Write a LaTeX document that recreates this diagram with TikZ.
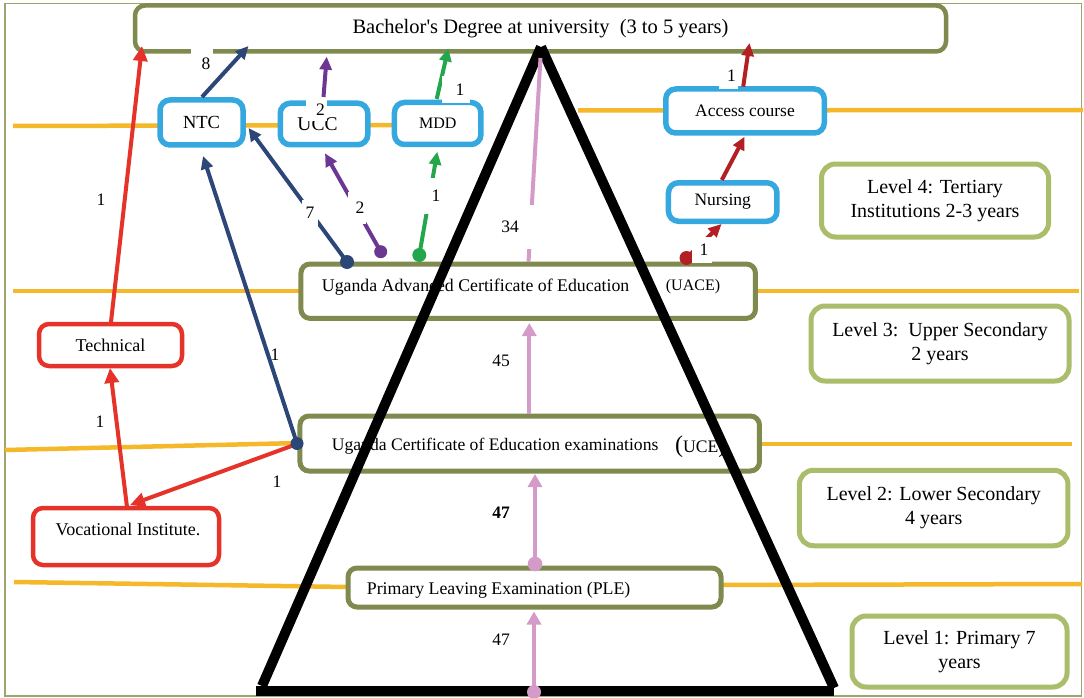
\documentclass[tikz,border=0pt]{standalone}
\usepackage{fontspec}
\setmainfont{Liberation Serif}
\usetikzlibrary{arrows.meta}
\definecolor{olv}{HTML}{7E8A4E}
\definecolor{sky}{HTML}{35A8E0}
\definecolor{lgr}{HTML}{A9BD6A}
\definecolor{rd}{HTML}{E6332A}
\definecolor{drd}{HTML}{B32024}
\definecolor{nvy}{HTML}{2C4677}
\definecolor{prp}{HTML}{6B3793}
\definecolor{grn}{HTML}{23A64C}
\definecolor{pnk}{HTML}{D49BC9}
\definecolor{ylw}{HTML}{F4B82A}
\definecolor{frm}{HTML}{9DA46C}
\newcommand{\myfs}[2]{\fontsize{#1pt}{#2pt}\selectfont}
\begin{document}
\begin{tikzpicture}[x=1pt,y=-1pt,
  box/.style={fill=white, rounded corners=9pt, inner sep=0pt, text=black},
  obox/.style={box, draw=olv, line width=5pt},
  bbox/.style={box, draw=sky, line width=5.5pt, rounded corners=10pt},
  lvbox/.style={box, draw=lgr, line width=5pt, rounded corners=14pt, align=center, font=\myfs{20}{24}},
  rbox/.style={box, draw=rd, line width=4.5pt, rounded corners=10pt},
  tx/.style={inner sep=0pt, anchor=west},
  lbl/.style={fill=white, inner sep=0pt, font=\myfs{17.5}{17.5}},
  plbl/.style={inner sep=0pt, font=\myfs{17.5}{17.5}},
  ylline/.style={draw=ylw, line width=4.5pt},
  con/.style={line width=4pt, -{Triangle[length=13pt,width=12pt]}},
  nv/.style={con, color=nvy},
  pr/.style={con, color=prp},
  gr/.style={con, color=grn},
  dr/.style={con, color=drd},
  br/.style={con, color=rd, -{Triangle[length=15pt,width=14pt]}},
  pk/.style={con, color=pnk, -{Triangle[length=13pt,width=14pt]}},
  tri/.style={line width=10pt, black}
]
\useasboundingbox (0,0) rectangle (1084,698);
\draw[frm, line width=1.3pt] (5,3.5) rectangle (1081.5,696);

% yellow level lines
\draw[ylline] (13,126) -- (395,125);
\draw[ylline] (578,110.5) -- (1083,110);
\draw[ylline] (13,291) -- (301,291);
\draw[ylline] (755,291) -- (1079,291);
\draw[ylline] (5,450) -- (300,443);
\draw[ylline] (759,444) -- (1072,444);
\draw[ylline] (14,582) -- (348,587);
\draw[ylline] (721,585) -- (1082,584);

% boxes
\node[obox, line width=4.5pt, rounded corners=10pt, minimum width=811pt, minimum height=46pt, font=\myfs{20.5}{22}] (bach) at (540.5,28.5) {Bachelor\textquotesingle s Degree at university\ \ (3 to 5 years)};
\node[bbox, minimum width=83pt, minimum height=45pt, font=\myfs{18.5}{18.5}] (ntc) at (201.5,122.5) {\raisebox{-1.5pt}{NTC}};
\node[bbox, minimum width=87.5pt, minimum height=41.5pt, font=\myfs{19.5}{19.5}] (ucc) at (324,124) {\raisebox{-4pt}{UCC}\hspace*{13pt}};
\node[bbox, minimum width=86.5pt, minimum height=42pt, font=\myfs{16}{16}] (mdd) at (437.7,123.5) {\raisebox{-1.5pt}{MDD}};
\node[bbox, minimum width=158.5pt, minimum height=44pt, font=\myfs{17.5}{17.5}] (acc) at (745,111) {Access course};
\node[bbox, minimum width=108.5pt, minimum height=38.5pt, font=\myfs{17.5}{17.5}] (nur) at (722.7,202) {\raisebox{-3pt}{Nursing}};

\node[lvbox, minimum width=227pt, minimum height=73pt] (lv4) at (935,200.5) {Level 4: Tertiary\\Institutions 2-3 years};
\node[lvbox, minimum width=258pt, minimum height=75pt] (lv3) at (940,343.5) {Level 3:\ \ Upper Secondary\\2 years};
\node[lvbox, minimum width=268.5pt, minimum height=75.5pt] (lv2) at (933.7,508) {Level 2: Lower Secondary\\4 years};
\node[lvbox, minimum width=215pt, minimum height=71pt] (lv1) at (959.5,651.5) {Level 1: Primary 7\\years};

\node[rbox, minimum width=143pt, minimum height=42pt, font=\myfs{18}{18}] (tech) at (110.5,345) {Technical};
\node[rbox, minimum width=186pt, minimum height=57pt] (voc) at (126,536.5) {};
\node[tx, anchor=center, font=\myfs{18}{18}] (voct) at (128,529.3) {Vocational Institute.};

\node[obox, minimum width=454.5pt, minimum height=54.3pt] (uace) at (528.2,291.2) {};
\node[tx, font=\myfs{17.8}{17.8}] (uacet) at (321.7,287) {Uganda Advanced Certificate of Education};
\node[tx, font=\myfs{16}{16}] (uacet2) at (665.7,287) {(UACE)};

\node[obox, minimum width=459.5pt, minimum height=55pt] (uce) at (529.7,443.5) {};
\node[tx, font=\myfs{17.6}{17.6}] (ucet) at (331.7,446.5) {Uganda Certificate of Education examinations};
\node[tx, font=\myfs{17.6}{17.6}] (ucet2) at (675,446.5) {{\myfs{24}{24}(}UCE{\myfs{24}{24})}};

\node[obox, minimum width=373pt, minimum height=39pt] (ple) at (534.5,587.5) {};
\node[tx, font=\myfs{17.8}{17.8}] (plet) at (366.7,590) {Primary Leaving Examination (PLE)};

% triangle
\coordinate (apex) at (541,47);
\coordinate (bl) at (262,686);
\coordinate (br) at (834,688);
\draw[tri] (bl) -- (apex);
\draw[tri] (br) -- (apex);
\draw[tri] (256,691) -- (834,691);

% pink flow
\coordinate (k0) at (534,692);
\coordinate (k1) at (535,564);
\coordinate (k2) at (529.3,413.5);
\coordinate (k3) at (528.5,262);
\coordinate (k4) at (540.5,58);
\draw[pk] (k0) -- (534,611.5);
\fill[pnk] (k0) circle (7pt);
\draw[pk] (k1) -- (535,474);
\fill[pnk] (k1) circle (7.3pt);
\draw[pk] (k2) -- (529.3,323);
\draw[con, color=pnk, -] (k3) -- (k4);

% bright red
\coordinate (rU) at (297,444);
\coordinate (rV) at (127,507);
\coordinate (rT) at (111,322);
\draw[br] (rU) -- (130,505);
\draw[br] (rV) -- (110,368);
\draw[br] (rT) -- (142,46);

% navy
\coordinate (nA) at (347,262);
\coordinate (nU) at (297,443.5);
\coordinate (nN) at (202,97);
\draw[nv] (nA) -- (248.5,128);
\draw[nv] (nU) -- (203,156);
\draw[nv] (nN) -- (248.5,46);
\fill[nvy] (nA) circle (7pt);
\fill[nvy] (nU) circle (6.5pt);

% purple
\coordinate (pA) at (380.7,251.7);
\coordinate (pU) at (323.5,97);
\draw[pr] (pA) -- (325,153.3);
\draw[pr] (pU) -- (326.7,56.7);
\fill[prp] (pA) circle (6.5pt);

% green
\coordinate (gA) at (419.3,255);
\coordinate (gM) at (436.7,99);
\draw[gr] (gA) -- (437.3,151.7);
\draw[gr] (gM) -- (448.3,48.3);
\fill[grn] (gA) circle (7pt);

% dark red
\coordinate (dA) at (686.5,258);
\coordinate (dN) at (721.8,180);
\coordinate (dC) at (743.2,86.7);
\draw[dr] (dA) -- (721.5,224);
\draw[dr] (dN) -- (744.6,136.7);
\draw[dr] (dC) -- (749.5,43);
\fill[drd] (dA) circle (7pt);

% labels
\node[lbl, minimum width=22pt, minimum height=32pt] (l8) at (202,64) {\hspace*{8pt}8};
\node[lbl, minimum width=21pt, minimum height=22pt] (l2a) at (316.5,110) {\hspace*{8pt}2};
\node[lbl, minimum width=28pt, minimum height=27pt] (l1m) at (456,89.5) {\hspace*{8pt}1};
\node[lbl, minimum width=19pt, minimum height=27pt] (l1a) at (728.5,75.5) {\hspace*{6pt}1};
\node[lbl, minimum width=20pt, minimum height=26pt] (l1n) at (702,250) {\hspace*{4pt}1};
\node[lbl, minimum width=16pt, minimum height=26pt] (l7) at (310,213) {7};
\node[lbl, minimum width=18pt, minimum height=32pt] (l2b) at (357,208) {\hspace*{6pt}2};
\node[lbl, minimum width=20pt, minimum height=36pt] (l1g) at (434,196) {\hspace*{4pt}1};
\node[lbl, minimum width=44pt, minimum height=44pt] (l34) at (517,226.5) {34\hspace*{14pt}};
\node[plbl] (l1t) at (101,200) {1};
\node[plbl] (l1v) at (100,422) {1};
\node[plbl] (l1r) at (277,482) {1};
\node[plbl] (l1u) at (275,355) {1};
\node[plbl] (l47a) at (501,640) {47};
\node[plbl, font=\myfs{17.5}{17.5}\bfseries] (l47b) at (501,513) {47};
\node[plbl] (l45) at (501,361) {45};
\end{tikzpicture}
\end{document}
